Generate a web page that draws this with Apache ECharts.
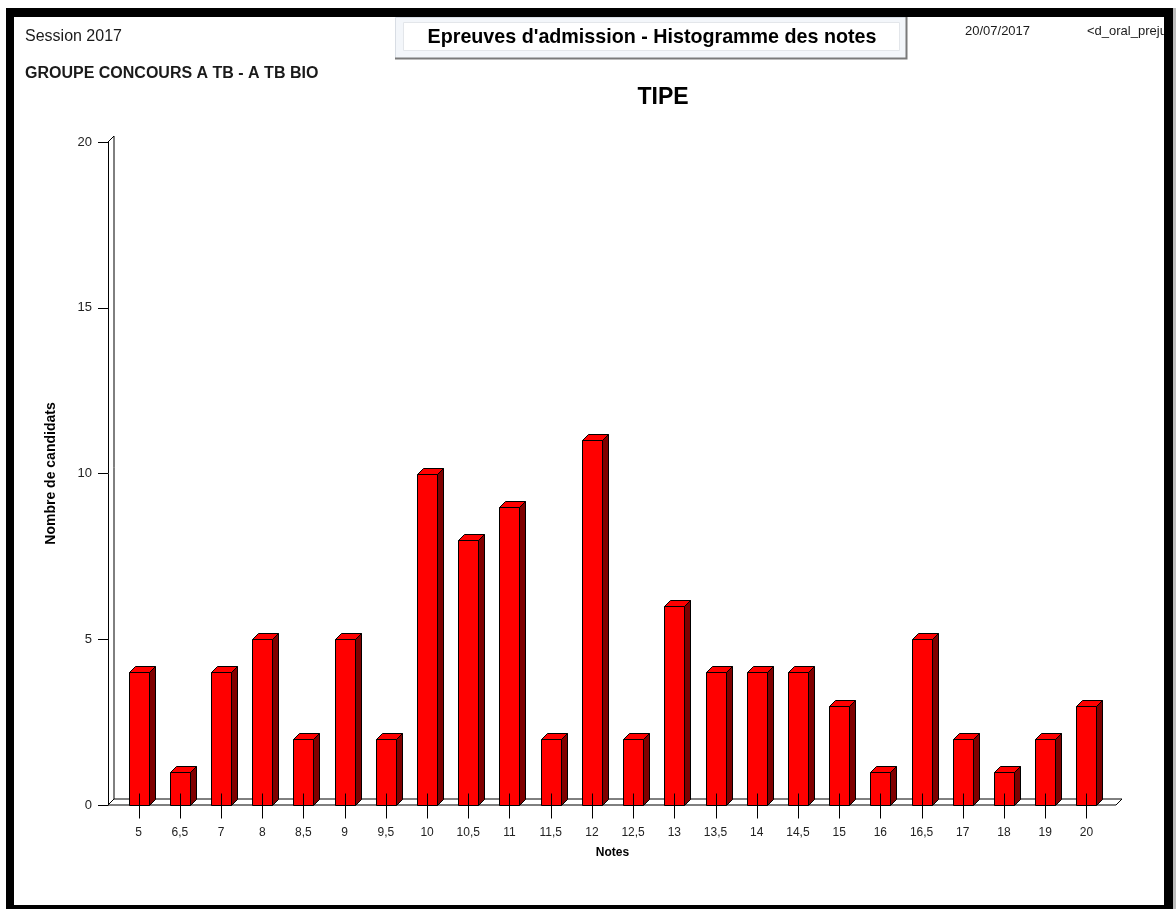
<!DOCTYPE html>
<html>
<head>
<meta charset="utf-8">
<script src="https://cdn.jsdelivr.net/npm/echarts@6/dist/echarts.min.js"></script>
<style>
html,body{margin:0;padding:0;background:#fff;}
#chart{width:1176px;height:909px;}
</style>
</head>
<body>
<div id="chart"></div>
<script>
// ---- data ----
const categories = ['5','6,5','7','8','8,5','9','9,5','10','10,5','11','11,5','12','12,5','13','13,5','14','14,5','15','16','16,5','17','18','19','20'];
const counts = [4,1,4,5,2,5,2,10,8,9,2,11,2,6,4,4,4,3,1,5,2,1,2,3];
const yMin = 0, yMax = 20, yStep = 5;
const chartTitle = 'TIPE';
const headerTitle = "Epreuves d'admission - Histogramme des notes";
const sessionText = 'Session 2017';
const groupText = 'GROUPE CONCOURS A TB - A TB BIO';
const dateText = '20/07/2017';
const codeText = '<d_oral_preju';
const xName = 'Notes';
const yName = 'Nombre de candidats';

const FONT = "'Liberation Sans', Arial, sans-serif";
const DEPTH = 6;

const chart = echarts.init(document.getElementById('chart'));

function renderFrame(params, api) {
  const cs = params.coordSys;
  const gx = cs.x, gy = cs.y, gw = cs.width, gh = cs.height;
  const fl = gx - 10, fr = gx + gw + 9, fb = gy + gh;
  return {
    type: 'group',
    children: [
      { type: 'polygon', shape: { points: [[fl, fb], [fr, fb], [fr + DEPTH, fb - DEPTH], [fl + DEPTH, fb - DEPTH]] },
        style: { fill: '#fff', stroke: '#000', lineWidth: 1 } },
      { type: 'line', shape: { x1: fl + DEPTH, y1: gy - DEPTH, x2: fl + DEPTH, y2: fb - DEPTH },
        style: { stroke: '#000', lineWidth: 1 } },
      { type: 'line', shape: { x1: fl, y1: gy, x2: fl + DEPTH, y2: gy - DEPTH },
        style: { stroke: '#000', lineWidth: 1 } }
    ]
  };
}

function renderBar(params, api) {
  const idx = api.value(0), v = api.value(1);
  const top = api.coord([idx, v]);
  const base = api.coord([idx, 0]);
  const band = api.size([1, 0])[0];
  const hw = Math.round(band * 0.243);
  const cx = Math.round(top[0]);
  const yt = Math.round(top[1]) + 0.5, yb = Math.round(base[1]) + 0.5;
  const l = cx - hw + 0.5, r = cx + hw + 0.5;
  return {
    type: 'group',
    children: [
      { type: 'polygon', shape: { points: [[r, yt], [r + DEPTH, yt - DEPTH], [r + DEPTH, yb - DEPTH], [r, yb]] },
        style: { fill: '#800000', stroke: '#000', lineWidth: 1 } },
      { type: 'polygon', shape: { points: [[l, yt], [l + DEPTH, yt - DEPTH], [r + DEPTH, yt - DEPTH], [r, yt]] },
        style: { fill: '#ff0000', stroke: '#000', lineWidth: 1 } },
      { type: 'rect', shape: { x: l, y: yt, width: r - l, height: yb - yt },
        style: { fill: '#ff0000', stroke: '#000', lineWidth: 1 } },
      { type: 'line', shape: { x1: cx + 0.5, y1: yb - 12, x2: cx + 0.5, y2: yb + 13 },
        style: { stroke: '#000', lineWidth: 1 } }
    ]
  };
}

const option = {
  backgroundColor: '#fff',
  animation: false,
  textStyle: { fontFamily: FONT },
  grid: { left: 118, width: 989, top: 142, bottom: 104 },
  xAxis: {
    type: 'category', data: categories, boundaryGap: true,
    axisLine: { show: false }, axisTick: { show: false },
    axisLabel: { margin: 22, fontSize: 12, color: '#222', fontFamily: FONT, interval: 0 },
    name: xName, nameLocation: 'middle', nameGap: 42,
    nameTextStyle: { fontFamily: FONT, fontSize: 12, fontWeight: 'bold', color: '#000' },
    splitLine: { show: false }
  },
  yAxis: {
    type: 'value', min: yMin, max: yMax, interval: yStep, offset: 10,
    axisLine: { show: true, lineStyle: { color: '#000', width: 1 } },
    axisTick: { show: true, length: 10, lineStyle: { color: '#000' } },
    axisLabel: { margin: 16, fontSize: 13, color: '#222', fontFamily: FONT },
    splitLine: { show: false },
    name: yName, nameLocation: 'middle', nameGap: 50, nameRotate: 90,
    nameTextStyle: { fontFamily: FONT, fontSize: 14, fontWeight: 'bold', color: '#000' }
  },
  series: [
    { type: 'custom', name: 'frame', renderItem: renderFrame, data: [[0, 0]], z: 1, silent: true },
    { type: 'custom', name: 'bars', renderItem: renderBar, z: 2,
      data: counts.map((c, i) => [i, c]), encode: { x: 0, y: 1 } }
  ],
  graphic: [
    { type: 'text', x: 663, y: 98, style: { text: chartTitle, font: 'bold 23px ' + FONT, fill: '#000', align: 'center', verticalAlign: 'middle' } },
    { type: 'text', left: 25, top: 29, style: { text: sessionText, font: '16px ' + FONT, fill: '#1a1a1a' } },
    { type: 'text', left: 25, top: 66, style: { text: groupText, font: 'bold 16px ' + FONT, fill: '#1a1a1a' } },
    { type: 'text', left: 965, top: 25, style: { text: dateText, font: '13px ' + FONT, fill: '#1a1a1a' } },
    { type: 'text', left: 1087, top: 25, style: { text: codeText, font: '13px ' + FONT, fill: '#1a1a1a' } },
    // header box
    { type: 'rect', shape: { x: 395.5, y: 17.5, width: 511, height: 41 },
      style: { fill: '#f3f6fa', stroke: '#d8dde4', lineWidth: 1 } },
    { type: 'polyline', shape: { points: [[906.5, 17], [906.5, 58.5], [395, 58.5]] },
      style: { stroke: '#7a7a7a', lineWidth: 2, fill: null } },
    { type: 'rect', shape: { x: 403.5, y: 22.5, width: 496, height: 28 },
      style: { fill: '#ffffff', stroke: '#e3e6ea', lineWidth: 1 } },
    { type: 'text', x: 652, y: 37.5, style: { text: headerTitle, font: 'bold 19.7px ' + FONT, fill: '#000', align: 'center', verticalAlign: 'middle' } },
    // outer black frame
    { type: 'rect', shape: { x: 6, y: 8, width: 1167, height: 9 }, style: { fill: '#000' }, z: 100 },
    { type: 'rect', shape: { x: 6, y: 8, width: 8, height: 901 }, style: { fill: '#000' }, z: 100 },
    { type: 'rect', shape: { x: 1164, y: 8, width: 9, height: 901 }, style: { fill: '#000' }, z: 100 },
    { type: 'rect', shape: { x: 6, y: 905, width: 1167, height: 4 }, style: { fill: '#000' }, z: 100 },
    { type: 'rect', shape: { x: 1173, y: 8, width: 3, height: 901 }, style: { fill: '#bdbdbd' }, z: 100 }
  ]
};
chart.setOption(option);
</script>
</body>
</html>
